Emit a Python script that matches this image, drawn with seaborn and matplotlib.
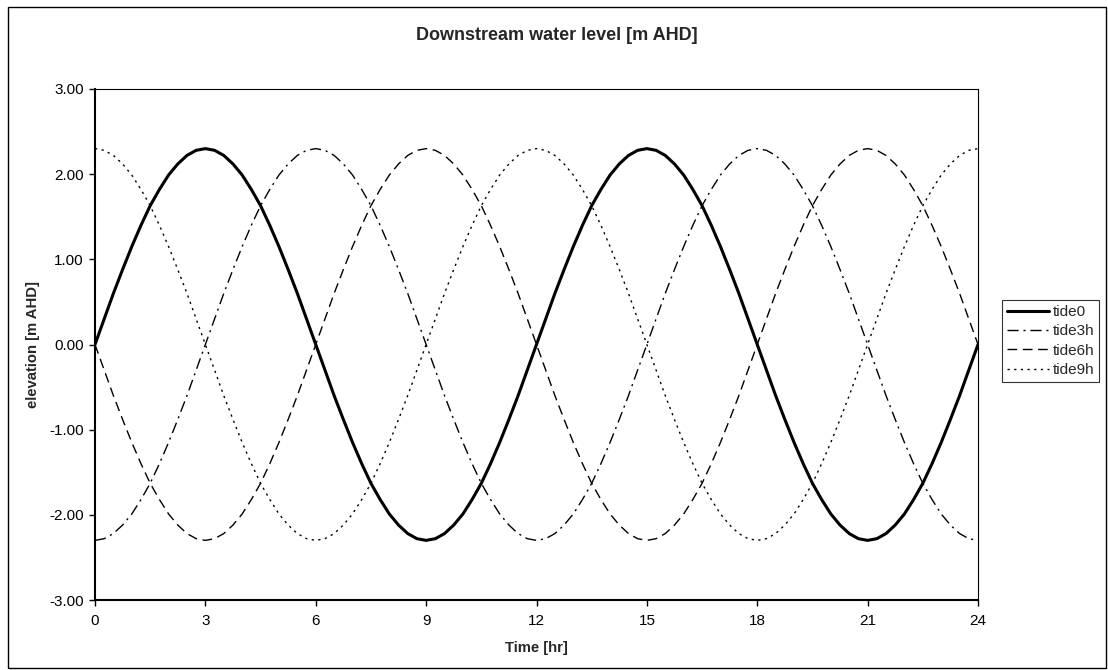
import matplotlib
matplotlib.use("Agg")
import matplotlib.pyplot as plt
import matplotlib.patches as mpatches
from matplotlib.lines import Line2D
import seaborn as sns
import pandas as pd

time_hr = [0, 0.25, 0.5, 0.75, 1, 1.25, 1.5, 1.75, 2, 2.25, 2.5, 2.75,
           3, 3.25, 3.5, 3.75, 4, 4.25, 4.5, 4.75, 5, 5.25, 5.5, 5.75,
           6, 6.25, 6.5, 6.75, 7, 7.25, 7.5, 7.75, 8, 8.25, 8.5, 8.75,
           9, 9.25, 9.5, 9.75, 10, 10.25, 10.5, 10.75, 11, 11.25, 11.5, 11.75,
           12, 12.25, 12.5, 12.75, 13, 13.25, 13.5, 13.75, 14, 14.25, 14.5, 14.75,
           15, 15.25, 15.5, 15.75, 16, 16.25, 16.5, 16.75, 17, 17.25, 17.5, 17.75,
           18, 18.25, 18.5, 18.75, 19, 19.25, 19.5, 19.75, 20, 20.25, 20.5, 20.75,
           21, 21.25, 21.5, 21.75, 22, 22.25, 22.5, 22.75, 23, 23.25, 23.5, 23.75,
           24]

tide0 = [0.00, 0.30, 0.60, 0.88, 1.15, 1.40, 1.63, 1.82, 1.99, 2.12, 2.22, 2.28,
         2.30, 2.28, 2.22, 2.12, 1.99, 1.82, 1.63, 1.40, 1.15, 0.88, 0.60, 0.30,
         0.00, -0.30, -0.60, -0.88, -1.15, -1.40, -1.63, -1.82, -1.99, -2.12, -2.22, -2.28,
         -2.30, -2.28, -2.22, -2.12, -1.99, -1.82, -1.63, -1.40, -1.15, -0.88, -0.60, -0.30,
         0.00, 0.30, 0.60, 0.88, 1.15, 1.40, 1.63, 1.82, 1.99, 2.12, 2.22, 2.28,
         2.30, 2.28, 2.22, 2.12, 1.99, 1.82, 1.63, 1.40, 1.15, 0.88, 0.60, 0.30,
         0.00, -0.30, -0.60, -0.88, -1.15, -1.40, -1.63, -1.82, -1.99, -2.12, -2.22, -2.28,
         -2.30, -2.28, -2.22, -2.12, -1.99, -1.82, -1.63, -1.40, -1.15, -0.88, -0.60, -0.30,
         0.00]

tide3h = [-2.30, -2.28, -2.22, -2.12, -1.99, -1.82, -1.63, -1.40, -1.15, -0.88, -0.60, -0.30,
          0.00, 0.30, 0.60, 0.88, 1.15, 1.40, 1.63, 1.82, 1.99, 2.12, 2.22, 2.28,
          2.30, 2.28, 2.22, 2.12, 1.99, 1.82, 1.63, 1.40, 1.15, 0.88, 0.60, 0.30,
          0.00, -0.30, -0.60, -0.88, -1.15, -1.40, -1.63, -1.82, -1.99, -2.12, -2.22, -2.28,
          -2.30, -2.28, -2.22, -2.12, -1.99, -1.82, -1.63, -1.40, -1.15, -0.88, -0.60, -0.30,
          0.00, 0.30, 0.60, 0.88, 1.15, 1.40, 1.63, 1.82, 1.99, 2.12, 2.22, 2.28,
          2.30, 2.28, 2.22, 2.12, 1.99, 1.82, 1.63, 1.40, 1.15, 0.88, 0.60, 0.30,
          0.00, -0.30, -0.60, -0.88, -1.15, -1.40, -1.63, -1.82, -1.99, -2.12, -2.22, -2.28,
          -2.30]

tide6h = [0.00, -0.30, -0.60, -0.88, -1.15, -1.40, -1.63, -1.82, -1.99, -2.12, -2.22, -2.28,
          -2.30, -2.28, -2.22, -2.12, -1.99, -1.82, -1.63, -1.40, -1.15, -0.88, -0.60, -0.30,
          0.00, 0.30, 0.60, 0.88, 1.15, 1.40, 1.63, 1.82, 1.99, 2.12, 2.22, 2.28,
          2.30, 2.28, 2.22, 2.12, 1.99, 1.82, 1.63, 1.40, 1.15, 0.88, 0.60, 0.30,
          0.00, -0.30, -0.60, -0.88, -1.15, -1.40, -1.63, -1.82, -1.99, -2.12, -2.22, -2.28,
          -2.30, -2.28, -2.22, -2.12, -1.99, -1.82, -1.63, -1.40, -1.15, -0.88, -0.60, -0.30,
          0.00, 0.30, 0.60, 0.88, 1.15, 1.40, 1.63, 1.82, 1.99, 2.12, 2.22, 2.28,
          2.30, 2.28, 2.22, 2.12, 1.99, 1.82, 1.63, 1.40, 1.15, 0.88, 0.60, 0.30,
          0.00]

tide9h = [2.30, 2.28, 2.22, 2.12, 1.99, 1.82, 1.63, 1.40, 1.15, 0.88, 0.60, 0.30,
          0.00, -0.30, -0.60, -0.88, -1.15, -1.40, -1.63, -1.82, -1.99, -2.12, -2.22, -2.28,
          -2.30, -2.28, -2.22, -2.12, -1.99, -1.82, -1.63, -1.40, -1.15, -0.88, -0.60, -0.30,
          0.00, 0.30, 0.60, 0.88, 1.15, 1.40, 1.63, 1.82, 1.99, 2.12, 2.22, 2.28,
          2.30, 2.28, 2.22, 2.12, 1.99, 1.82, 1.63, 1.40, 1.15, 0.88, 0.60, 0.30,
          0.00, -0.30, -0.60, -0.88, -1.15, -1.40, -1.63, -1.82, -1.99, -2.12, -2.22, -2.28,
          -2.30, -2.28, -2.22, -2.12, -1.99, -1.82, -1.63, -1.40, -1.15, -0.88, -0.60, -0.30,
          0.00, 0.30, 0.60, 0.88, 1.15, 1.40, 1.63, 1.82, 1.99, 2.12, 2.22, 2.28,
          2.30]

series_names = ["tide0", "tide3h", "tide6h", "tide9h"]
x_ticks = [0, 3, 6, 9, 12, 15, 18, 21, 24]
y_ticks = [-3, -2, -1, 0, 1, 2, 3]

sns.set_style("white")
plt.rcParams["font.family"] = ["Liberation Sans", "DejaVu Sans"]

fig = plt.figure(figsize=(11.08, 6.70), dpi=100)
W, H = 1108, 670
ax = fig.add_axes([95 / W, 1 - 600 / H, (978 - 95) / W, (600 - 89) / H])

styles = {
    "tide0": dict(lw=2.2, ls="-"),
    "tide3h": dict(lw=1.0, ls=(0, (8, 3.5, 1.5, 3.5))),
    "tide6h": dict(lw=1.0, ls=(0, (7, 4))),
    "tide9h": dict(lw=1.0, ls=(0, (1.6, 3.2))),
}

df = pd.DataFrame({"time": time_hr, "tide0": tide0, "tide3h": tide3h,
                   "tide6h": tide6h, "tide9h": tide9h})
for name in series_names:
    sns.lineplot(data=df, x="time", y=name, ax=ax, color="black",
                 linewidth=styles[name]["lw"], linestyle=styles[name]["ls"],
                 solid_joinstyle="round", dash_joinstyle="round")

ax.set_xlim(0, 24)
ax.set_ylim(-3, 3)
ax.set_xticks(x_ticks)
ax.set_xticklabels([str(t) for t in x_ticks])
ax.set_yticks(y_ticks)
ax.set_yticklabels([f"{v:.2f}" for v in y_ticks])
ax.tick_params(axis="both", which="major", direction="out", length=4, width=1,
               colors="black", labelsize=11, left=True, bottom=True, top=False, right=False)
ax.tick_params(axis="x", pad=6)
ax.tick_params(axis="y", pad=4)

for s in ["left", "bottom"]:
    ax.spines[s].set_linewidth(1.5)
    ax.spines[s].set_color("black")
for s in ["top", "right"]:
    ax.spines[s].set_linewidth(0.8)
    ax.spines[s].set_color("black")
ax.grid(False)

ax.set_xlabel("Time [hr]", fontsize=10.7, fontweight="bold")
ax.set_ylabel("elevation [m AHD]", fontsize=10.7, fontweight="bold")
ax.xaxis.set_label_coords(0.5, -(648 - 600) / (600 - 89))
ax.yaxis.set_label_coords(-(95 - 33) / (978 - 95), 0.5)
ax.xaxis.label.set_va("center")
ax.yaxis.label.set_va("center")

fig.text(557 / W, 1 - 35 / H, "Downstream water level [m AHD]", ha="center",
         va="center", fontsize=13, fontweight="bold")

handles = [Line2D([0], [0], color="black", lw=styles[n]["lw"], ls=styles[n]["ls"])
           for n in series_names]
leg = fig.legend(handles, series_names, loc="center left",
                 bbox_to_anchor=(1002 / W, 1 - 341 / H), frameon=True,
                 fancybox=False, shadow=False, fontsize=11, handlelength=2.8,
                 handletextpad=0.25, labelspacing=0.35, borderpad=0.3,
                 borderaxespad=0)
leg.get_frame().set_edgecolor("black")
leg.get_frame().set_linewidth(0.8)

fig.patches.append(mpatches.Rectangle((8 / W, 1 - 668 / H), (1106 - 8) / W, (668 - 7) / H,
                                      transform=fig.transFigure, fill=False,
                                      edgecolor="black", linewidth=1.0))

fig.savefig("out.png", dpi=100)
